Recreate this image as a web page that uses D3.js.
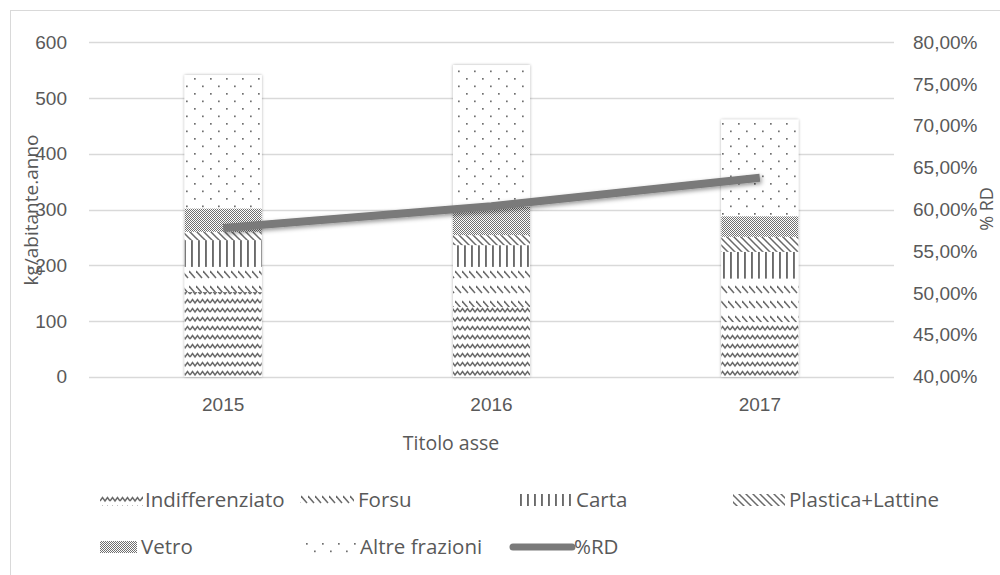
<!DOCTYPE html>
<html>
<head>
<meta charset="utf-8">
<script src="https://cdn.jsdelivr.net/npm/d3@7"></script>
<style>
  html, body { margin: 0; padding: 0; background: #fff; }
  svg { display: block; font-family: "Open Sans", "Noto Sans", sans-serif; }
</style>
</head>
<body>
<svg id="chart" width="1000" height="575"></svg>
<script>
// Rifiuti urbani pro capite per frazione (kg/abitante.anno) e % raccolta differenziata
const years = ["2015", "2016", "2017"];
const indifferenziato = [152, 125, 98];
const forsu = [45, 72, 78];
const carta = [48, 39, 48];
const plastica = [15, 18, 27];
const vetro = [42, 51, 37];
const altre = [239, 254, 173];
const percRD = [0.578, 0.604, 0.638];

const seriesNames = ["Indifferenziato", "Forsu", "Carta", "Plastica+Lattine", "Vetro", "Altre frazioni"];
const seriesValues = [indifferenziato, forsu, carta, plastica, vetro, altre];
const leftTicks = [0, 100, 200, 300, 400, 500, 600];
const rightTicks = [0.40, 0.45, 0.50, 0.55, 0.60, 0.65, 0.70, 0.75, 0.80];

const svg = d3.select("#chart");
const textColor = "#595959";
const gridColor = "#d9d9d9";
const ink = "#6a6a6a";

const plot = { left: 89, right: 894, top: 42.3, bottom: 376.7 };

// chart area border
svg.append("rect")
  .attr("x", 10.5).attr("y", 10.5).attr("width", 1000).attr("height", 600)
  .attr("fill", "none").attr("stroke", gridColor).attr("stroke-width", 1);

// ---- fill patterns ----
const defs = svg.append("defs");

function pattern(id, w, h, draw) {
  const p = defs.append("pattern")
    .attr("id", id).attr("patternUnits", "userSpaceOnUse")
    .attr("width", w).attr("height", h);
  p.append("rect").attr("width", w).attr("height", h).attr("fill", "#fff");
  draw(p);
}
// wave
pattern("p0", 10, 9, p => {
  p.append("path").attr("d", "M0 6 L2.5 2.5 L5 6 L7.5 2.5 L10 6")
    .attr("fill", "none").attr("stroke", ink).attr("stroke-width", 1.5);
});
// sparse downward diagonal dashes
pattern("p1", 7, 15, p => {
  p.append("path").attr("d", "M0 1 L6 8").attr("stroke", ink).attr("stroke-width", 1.5);
});
// vertical lines
pattern("p2", 7, 8, p => {
  p.append("rect").attr("x", 2).attr("y", 0).attr("width", 1.9).attr("height", 8).attr("fill", ink);
});
// dense downward diagonal
pattern("p3", 7, 7, p => {
  p.append("path").attr("d", "M-1 -1 L8 8 M-1 6 L1 8 M6 -1 L8 1")
    .attr("stroke", ink).attr("stroke-width", 1.5);
});
// fine checker
pattern("p4", 2, 2, p => {
  p.append("rect").attr("x", 0).attr("y", 0).attr("width", 1).attr("height", 1).attr("fill", "#707070");
  p.append("rect").attr("x", 1).attr("y", 1).attr("width", 1).attr("height", 1).attr("fill", "#707070");
});
// dots
pattern("p5", 16, 15, p => {
  p.append("rect").attr("x", 2).attr("y", 3).attr("width", 1.7).attr("height", 1.7).attr("fill", "#707070");
  p.append("rect").attr("x", 10).attr("y", 10.5).attr("width", 1.7).attr("height", 1.7).attr("fill", "#707070");
});

const shadow = defs.append("filter").attr("id", "shadow")
  .attr("x", "-20%").attr("y", "-20%").attr("width", "140%").attr("height", "140%");
shadow.append("feDropShadow").attr("dx", 0).attr("dy", 0).attr("stdDeviation", 1.6)
  .attr("flood-color", "#000").attr("flood-opacity", 0.35);

const lineShadow = defs.append("filter").attr("id", "lshadow")
  .attr("x", "-10%").attr("y", "-50%").attr("width", "120%").attr("height", "200%");
lineShadow.append("feDropShadow").attr("dx", 1.5).attr("dy", 2).attr("stdDeviation", 2.2)
  .attr("flood-color", "#000").attr("flood-opacity", 0.4);

// ---- scales ----
const x = d3.scaleBand().domain(years).range([plot.left, plot.right])
  .paddingInner(0.713).paddingOuter(0.3565);
const y = d3.scaleLinear().domain([0, 600]).range([plot.bottom, plot.top]);
const y2 = d3.scaleLinear().domain([0.4, 0.8]).range([plot.bottom, plot.top]);

// gridlines
svg.append("g").selectAll("line").data(leftTicks).join("line")
  .attr("x1", plot.left).attr("x2", plot.right)
  .attr("y1", d => Math.round(y(d)) + 0.5).attr("y2", d => Math.round(y(d)) + 0.5)
  .attr("stroke", gridColor).attr("stroke-width", 1.3);

// left axis
const yAxis = svg.append("g")
  .attr("transform", `translate(${plot.left - 22},0)`)
  .call(d3.axisLeft(y).tickValues(leftTicks).tickSize(0).tickPadding(0).tickFormat(d3.format("d")));
yAxis.select(".domain").remove();
yAxis.selectAll("text").attr("fill", textColor).attr("font-size", 19).attr("font-family", null);

// right axis
const fmtPct = d => d3.format(".2f")(d * 100).replace(".", ",") + "%";
const y2Axis = svg.append("g")
  .attr("transform", `translate(${plot.right + 19},0)`)
  .call(d3.axisRight(y2).tickValues(rightTicks).tickSize(0).tickPadding(0).tickFormat(fmtPct));
y2Axis.select(".domain").remove();
y2Axis.selectAll("text").attr("fill", textColor).attr("font-size", 19).attr("font-family", null);

// x axis labels
const xAxis = svg.append("g")
  .attr("transform", `translate(0,${plot.bottom + 21})`)
  .call(d3.axisBottom(x).tickSize(0).tickPadding(0));
xAxis.select(".domain").remove();
xAxis.selectAll("text").attr("fill", textColor).attr("font-size", 19).attr("font-family", null)
  .attr("dy", "0.71em");

// axis titles
svg.append("text").attr("x", 451).attr("y", 450).attr("text-anchor", "middle")
  .attr("fill", textColor).attr("font-size", 19.5).text("Titolo asse");
svg.append("text").attr("transform", "translate(38,210) rotate(-90)")
  .attr("text-anchor", "middle").attr("fill", textColor).attr("font-size", 19)
  .text("kg/abitante.anno");
svg.append("text").attr("transform", "translate(993,209) rotate(-90)")
  .attr("text-anchor", "middle").attr("fill", textColor).attr("font-size", 18)
  .text("% RD");

// ---- stacked bars ----
const table = years.map((yr, i) => {
  const row = { year: yr };
  seriesNames.forEach((s, k) => { row[s] = seriesValues[k][i]; });
  return row;
});
const stacked = d3.stack().keys(seriesNames)(table);

const barsG = svg.append("g");
// shadow underlay for each full bar
barsG.selectAll("rect.under").data(table).join("rect")
  .attr("class", "under")
  .attr("x", d => x(d.year)).attr("width", x.bandwidth())
  .attr("y", d => y(d3.sum(seriesNames, s => d[s])))
  .attr("height", d => y(0) - y(d3.sum(seriesNames, s => d[s])))
  .attr("fill", "#fff").attr("filter", "url(#shadow)");

stacked.forEach((layer, k) => {
  barsG.append("g").selectAll("rect").data(layer).join("rect")
    .attr("x", d => x(d.data.year)).attr("width", x.bandwidth())
    .attr("y", d => y(d[1])).attr("height", d => y(d[0]) - y(d[1]))
    .attr("fill", `url(#p${k})`);
});

// ---- %RD line ----
const line = d3.line().x((d, i) => x(years[i]) + x.bandwidth() / 2).y(d => y2(d));
svg.append("path").datum(percRD)
  .attr("d", line).attr("fill", "none")
  .attr("stroke", "#7a7a7a").attr("stroke-width", 8)
  .attr("filter", "url(#lshadow)");

// ---- legend ----
const legendItems = [
  { name: "Indifferenziato", pat: 0, sx: 100, sw: 43, tx: 145, ty: 500 },
  { name: "Forsu", pat: 1, sx: 300, sw: 54, tx: 358, ty: 500 },
  { name: "Carta", pat: 2, sx: 516, sw: 56, tx: 576, ty: 500 },
  { name: "Plastica+Lattine", pat: 3, sx: 733, sw: 52, tx: 789, ty: 500 },
  { name: "Vetro", pat: 4, sx: 100, sw: 37, tx: 141, ty: 547 },
  { name: "Altre frazioni", pat: 5, sx: 300, sw: 56, tx: 360, ty: 547 },
  { name: "%RD", pat: null, sx: 513, sw: 59, tx: 574, ty: 547 }
];
const lg = svg.append("g");
legendItems.forEach(it => {
  if (it.pat === null) {
    lg.append("line").attr("x1", it.sx).attr("x2", it.sx + it.sw)
      .attr("y1", it.ty).attr("y2", it.ty)
      .attr("stroke", "#7a7a7a").attr("stroke-width", 7).attr("stroke-linecap", "round");
  } else {
    lg.append("rect").attr("x", it.sx).attr("y", it.ty - 6).attr("width", it.sw).attr("height", 12)
      .attr("fill", `url(#p${it.pat})`);
  }
  lg.append("text").attr("x", it.tx).attr("y", it.ty).attr("dy", "0.35em")
    .attr("fill", textColor).attr("font-size", 20.5).text(it.name);
});
</script>
</body>
</html>
